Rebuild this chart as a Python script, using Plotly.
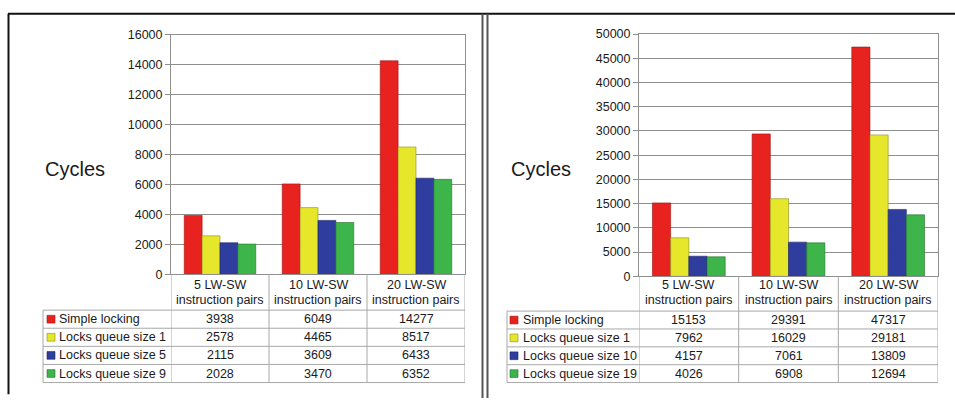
import plotly.graph_objects as go

W, H = 955, 405

# ---------------- data ----------------
cat_line1 = ["5 LW-SW", "10 LW-SW", "20 LW-SW"]
cat_line2 = ["instruction pairs", "instruction pairs", "instruction pairs"]

left_series = ["Simple locking", "Locks queue size 1", "Locks queue size 5", "Locks queue size 9"]
left_simple = [3938, 6049, 14277]
left_q1 = [2578, 4465, 8517]
left_q5 = [2115, 3609, 6433]
left_q9 = [2028, 3470, 6352]

right_series = ["Simple locking", "Locks queue size 1", "Locks queue size 10", "Locks queue size 19"]
right_simple = [15153, 29391, 47317]
right_q1 = [7962, 16029, 29181]
right_q10 = [4157, 7061, 13809]
right_q19 = [4026, 6908, 12694]

left_yticks = [0, 2000, 4000, 6000, 8000, 10000, 12000, 14000, 16000]
right_yticks = [0, 5000, 10000, 15000, 20000, 25000, 30000, 35000, 40000, 45000, 50000]

axis_title = "Cycles"

# ---------------- styles ----------------
colors = ["#E8231F", "#E6E62A", "#2F3E9E", "#3DB54A"]
edge_colors = ["#9a1512", "#8f8f1a", "#1c2666", "#23702c"]
grid_col = "#8f8f8f"
table_col = "#a8a8a8"
FONT = "Arial, Liberation Sans, sans-serif"
TXT = "#1a1a1a"
FS = 12.5


def px(x):
    return x / W


def py(y):
    return 1 - y / H


panels = [
    dict(series=left_series, values=[left_simple, left_q1, left_q5, left_q9], yticks=left_yticks,
         x0=171, x1=465, y0=29, y1=277, leg_left=43, row_top=314, row_h=18.75,
         title_x=75, sq_x=47, txt_x=56.5, xa="x", ya="y"),
    dict(series=right_series, values=[right_simple, right_q1, right_q10, right_q19], yticks=right_yticks,
         x0=639, x1=938, y0=28, y1=279, leg_left=507, row_top=315, row_h=18.5,
         title_x=541, sq_x=510, txt_x=520.5, xa="x2", ya="y2"),
]

fig = go.Figure()
shapes = []
annotations = []
layout = {}

for k, p in enumerate(panels):
    suffix = "" if k == 0 else str(k + 1)
    for s, name in enumerate(p["series"]):
        fig.add_trace(go.Bar(
            x=cat_line1, y=p["values"][s], name=name,
            marker=dict(color=colors[s], line=dict(color=edge_colors[s], width=0.6)),
            xaxis=p["xa"], yaxis=p["ya"], showlegend=False,
        ))
    layout["xaxis" + suffix] = dict(
        domain=[px(p["x0"]), px(p["x1"])], anchor=p["ya"], type="category",
        range=[-0.5, len(cat_line1) - 0.5], showticklabels=False, ticks="",
        showgrid=False, showline=True, linecolor=grid_col, linewidth=1, mirror=True,
        zeroline=False, fixedrange=True,
    )
    layout["yaxis" + suffix] = dict(
        domain=[py(p["y1"]), py(p["y0"])], anchor=p["xa"],
        range=[0, p["yticks"][-1]], tickmode="array", tickvals=p["yticks"],
        ticktext=[str(v) for v in p["yticks"]],
        showgrid=True, gridcolor=grid_col, gridwidth=1,
        ticks="outside", ticklen=5, tickcolor=grid_col,
        showline=True, linecolor=grid_col, linewidth=1, mirror=True,
        zeroline=False, tickfont=dict(family=FONT, size=FS, color=TXT),
        fixedrange=True,
    )

    # axis title "Cycles"
    annotations.append(dict(
        text=axis_title, xref="paper", yref="paper", x=px(p["title_x"]), y=py(168),
        showarrow=False, font=dict(family=FONT, size=20, color=TXT), xanchor="center", yanchor="middle",
    ))

    # header (category) labels
    for i, (l1, l2) in enumerate(zip(cat_line1, cat_line2)):
        annotations.append(dict(text=l1, xref=p["xa"], yref="paper", x=l1, y=py(288), showarrow=False,
                                font=dict(family=FONT, size=FS, color=TXT), xanchor="center", yanchor="middle"))
        annotations.append(dict(text=l2, xref=p["xa"], yref="paper", x=l1, y=py(304), showarrow=False,
                                font=dict(family=FONT, size=FS, color=TXT), xanchor="center", yanchor="middle"))

    n_rows = len(p["series"])
    table_bottom = p["row_top"] + n_rows * p["row_h"]

    # vertical table lines at category boundaries (axis coordinates)
    for b in range(len(cat_line1) + 1):
        shapes.append(dict(type="line", xref=p["xa"], yref="paper", x0=b - 0.5, x1=b - 0.5,
                           y0=py(p["y1"]), y1=py(table_bottom), line=dict(color=table_col, width=1)))
    # legend column left border
    shapes.append(dict(type="line", xref="paper", yref="paper", x0=px(p["leg_left"]), x1=px(p["leg_left"]),
                       y0=py(p["row_top"]), y1=py(table_bottom), line=dict(color=table_col, width=1)))
    # horizontal lines
    for r in range(n_rows + 1):
        yy = p["row_top"] + r * p["row_h"]
        shapes.append(dict(type="line", xref="paper", yref="paper", x0=px(p["leg_left"]), x1=px(p["x1"]),
                           y0=py(yy), y1=py(yy), line=dict(color=table_col, width=1)))

    # rows: legend keys, names and values
    for s, name in enumerate(p["series"]):
        yc = p["row_top"] + (s + 0.5) * p["row_h"]
        shapes.append(dict(type="rect", xref="paper", yref="paper",
                           x0=px(p["sq_x"]), x1=px(p["sq_x"] + 8), y0=py(yc - 4), y1=py(yc + 4),
                           fillcolor=colors[s], line=dict(color=edge_colors[s], width=0.6)))
        annotations.append(dict(text=name, xref="paper", yref="paper", x=px(p["txt_x"]), y=py(yc),
                                showarrow=False, xanchor="left", yanchor="middle",
                                font=dict(family=FONT, size=FS, color=TXT)))
        for i, v in enumerate(p["values"][s]):
            annotations.append(dict(text=str(v), xref=p["xa"], yref="paper", x=cat_line1[i], y=py(yc),
                                    showarrow=False, xanchor="center", yanchor="middle",
                                    font=dict(family=FONT, size=FS, color=TXT)))

# outer frame lines
shapes.append(dict(type="line", xref="paper", yref="paper", x0=px(8), x1=1, y0=py(7), y1=py(7),
                   line=dict(color="#111111", width=2)))
shapes.append(dict(type="line", xref="paper", yref="paper", x0=px(8.5), x1=px(8.5), y0=py(7), y1=py(401),
                   line=dict(color="#111111", width=2)))
for xx in (482.5, 487.5):
    shapes.append(dict(type="line", xref="paper", yref="paper", x0=px(xx), x1=px(xx), y0=py(7), y1=py(405),
                       line=dict(color="#555555", width=2)))

fig.update_layout(
    width=W, height=H, margin=dict(l=0, r=0, t=0, b=0),
    paper_bgcolor="white", plot_bgcolor="white",
    barmode="group", bargap=0.27, bargroupgap=0,
    shapes=shapes, annotations=annotations,
    **layout,
)

fig.write_html("out.html")
